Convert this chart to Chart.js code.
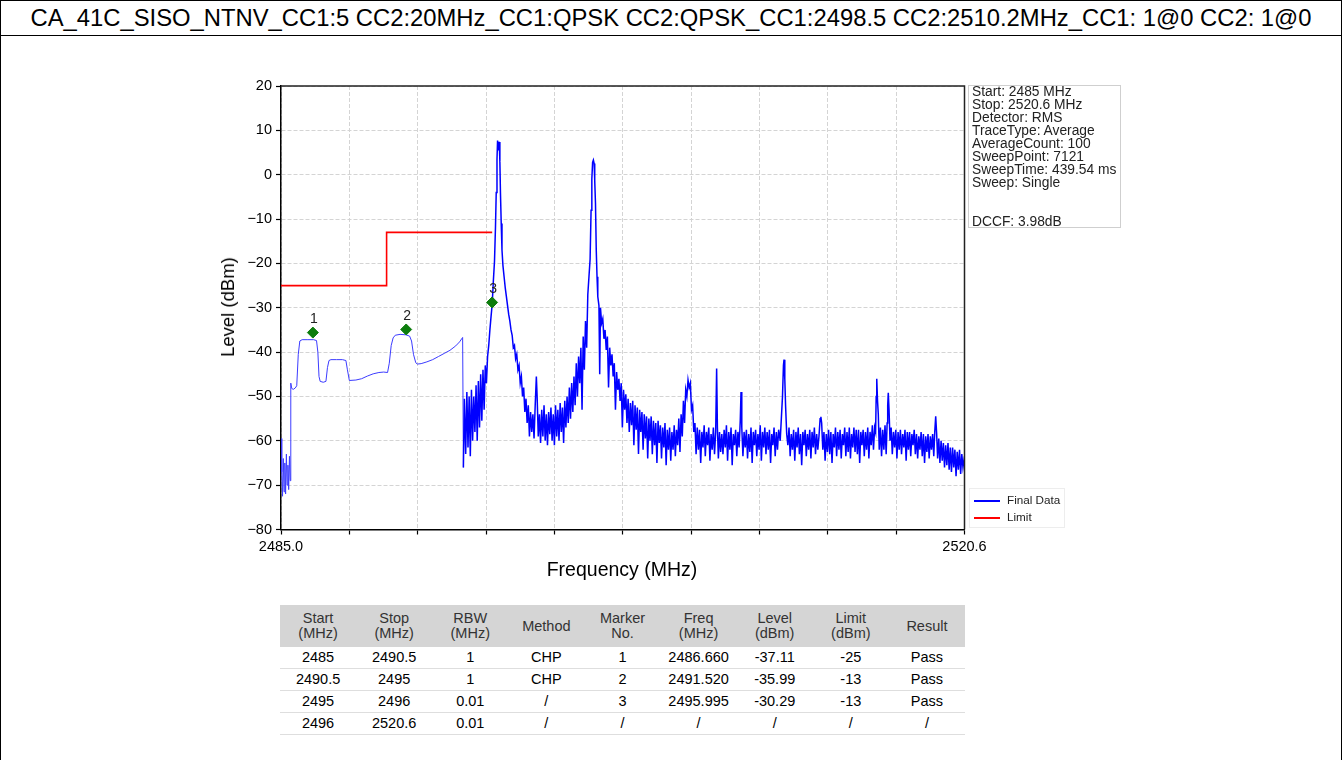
<!DOCTYPE html>
<html>
<head>
<meta charset="utf-8">
<script src="https://cdn.jsdelivr.net/npm/chart.js@4.4.0/dist/chart.umd.min.js"></script>
<style>
html,body{margin:0;padding:0;background:#fff;}
body{width:1342px;height:760px;position:relative;overflow:hidden;font-family:"Liberation Sans",Arial,Helvetica,sans-serif;color:#000;}
#frame{position:absolute;left:0;top:0;width:1340px;height:800px;border:1px solid #000;}
#title{position:absolute;left:0;top:0;width:1342px;height:35px;border-bottom:1.5px solid #000;text-align:center;font-size:23.8px;line-height:36px;white-space:nowrap;}
#chartBox{position:absolute;left:0;top:0;width:1342px;height:600px;}
#info{position:absolute;left:968px;top:85px;width:153px;height:143px;border:1px solid #cfcfcf;box-sizing:border-box;padding:0 0 0 3px;font-size:13.8px;line-height:12.95px;color:#222;white-space:pre;}
#legend{position:absolute;left:969px;top:488px;width:96px;height:40px;border:1px solid #ededed;box-sizing:border-box;font-size:11.7px;color:#222;}
.lg{position:absolute;left:4px;width:26px;height:1.5px;}
.lt{position:absolute;left:37px;line-height:14px;}
.axt{position:absolute;font-size:19.5px;color:#000;white-space:nowrap;}
#ytitle{left:228px;top:307px;transform:translate(-50%,-50%) rotate(-90deg);font-size:18.5px;}
#xtitle{left:622px;top:569px;transform:translate(-50%,-50%);}
#tbl{position:absolute;left:280px;top:605px;border-collapse:collapse;font-size:14.5px;table-layout:fixed;width:685px;}
#tbl th{background:#d5d5d5;font-weight:normal;color:#333;height:42px;padding:0;line-height:15px;text-align:center;}
#tbl td{height:21px;padding:0;text-align:center;border-bottom:1px solid #dedede;line-height:21px;}
</style>
</head>
<body>
<div id="frame"></div>
<div id="title"></div>
<div id="chartBox"><canvas id="c" width="1342" height="600"></canvas></div>
<div id="info"></div>
<div id="legend"></div>
<div id="ytitle" class="axt"></div>
<div id="xtitle" class="axt"></div>
<table id="tbl"><thead><tr id="thead"></tr></thead><tbody id="tbody"></tbody></table>
<script>
// ---------------- data ----------------
const pageTitle = 'CA_41C_SISO_NTNV_CC1:5 CC2:20MHz_CC1:QPSK CC2:QPSK_CC1:2498.5 CC2:2510.2MHz_CC1: 1@0 CC2: 1@0';
const xAxisTitle = 'Frequency (MHz)';
const yAxisTitle = 'Level (dBm)';
const xMin = 2485.0, xMax = 2520.6;
const yMin = -80, yMax = 20;
const xTickValues = [2485.0, 2488.56, 2492.12, 2495.68, 2499.24, 2502.80, 2506.36, 2509.92, 2513.48, 2517.04, 2520.6];
const xTickLabels = ['2485.0', '', '', '', '', '', '', '', '', '', '2520.6'];
const yTickValues = [-80, -70, -60, -50, -40, -30, -20, -10, 0, 10, 20];

const seriesNames = ['Final Data', 'Limit'];

// Limit line (MHz, dBm)
const limitFreq = [2485.0, 2490.5, 2490.5, 2496.0];
const limitLevel = [-25, -25, -13, -13];

// Markers
const markerNo = ['1', '2', '3'];
const markerFreq = [2486.660, 2491.520, 2495.995];
const markerLevel = [-35.6, -34.9, -28.8];

// Final Data trace: [frequency MHz, level dBm]
const finalDataTrace = [
[2485.00,-59.5],[2485.04,-67],[2485.08,-72.5],[2485.12,-64],[2485.16,-71.5],[2485.20,-65],[2485.24,-72],[2485.28,-63],
[2485.32,-70],[2485.36,-65.5],[2485.40,-71],[2485.44,-63.5],[2485.48,-69],[2485.51,-47],[2485.56,-48.2],[2485.64,-48.4],
[2485.74,-48.1],[2485.82,-47.6],[2485.90,-40.5],[2485.98,-37.5],[2486.10,-37.2],[2486.40,-37.2],[2486.70,-37.2],[2486.85,-37.4],
[2486.92,-40],[2486.98,-45.5],[2487.04,-46.6],[2487.20,-46.8],[2487.34,-46.6],[2487.42,-43.5],[2487.50,-41.9],[2487.60,-41.7],
[2487.90,-41.7],[2488.20,-41.7],[2488.38,-41.9],[2488.46,-44],[2488.56,-46.4],[2488.90,-46.3],[2489.20,-46.0],[2489.50,-45.4],
[2489.80,-44.9],[2490.10,-44.6],[2490.35,-44.5],[2490.55,-44.6],[2490.64,-42.5],[2490.74,-38.5],[2490.84,-36.8],[2490.95,-36.2],
[2491.20,-36.0],[2491.50,-36.1],[2491.70,-36.4],[2491.80,-37.5],[2491.90,-40.5],[2492.02,-42.4],[2492.10,-42.7],[2492.30,-42.6],
[2492.60,-42.2],[2492.90,-41.7],[2493.20,-41.0],[2493.50,-40.3],[2493.80,-39.6],[2494.10,-38.6],[2494.30,-37.7],[2494.46,-36.7],
[2494.50,-66],[2494.55,-50.5],[2494.62,-63],[2494.68,-49],[2494.74,-61.5],[2494.80,-50],[2494.86,-63.5],[2494.92,-48.5],
[2494.98,-60],[2495.04,-50],[2495.10,-58],[2495.16,-47.5],[2495.22,-60],[2495.28,-46.5],[2495.34,-57],[2495.40,-45],
[2495.46,-55.5],[2495.52,-44],[2495.58,-53],[2495.64,-43],[2495.70,-47],[2495.76,-41],[2495.82,-38.5],[2495.88,-35],
[2495.94,-32],[2496.00,-29.2],[2496.06,-24],[2496.12,-19.5],[2496.17,-12],[2496.21,-4],[2496.25,3.5],[2496.28,7.7],
[2496.31,6.5],[2496.34,5.5],[2496.37,7.4],[2496.40,3],[2496.43,-4],[2496.47,-11],[2496.51,-17],[2496.56,-20.5],
[2496.62,-23],[2496.68,-25.5],[2496.74,-27.5],[2496.80,-29.5],[2496.86,-31.5],[2496.92,-33],[2496.98,-35],[2497.04,-36.2],
[2497.10,-39],[2497.16,-38.5],[2497.22,-41.5],[2497.28,-40.5],[2497.34,-44],[2497.40,-43],[2497.46,-47],[2497.52,-45.5],
[2497.58,-50],[2497.64,-48],[2497.70,-53.5],[2497.76,-50.5],[2497.82,-56],[2497.88,-52],[2497.94,-59],[2498.00,-53.5],
[2498.06,-58],[2498.12,-54],[2498.18,-59.5],[2498.24,-52],[2498.30,-45.5],[2498.34,-50],[2498.40,-59],[2498.46,-54],
[2498.52,-60.5],[2498.58,-53],[2498.64,-59],[2498.70,-52],[2498.76,-60],[2498.82,-54],[2498.88,-61],[2498.94,-53.5],
[2499.00,-58.5],[2499.06,-52.5],[2499.12,-60],[2499.18,-54],[2499.24,-61],[2499.30,-52],[2499.36,-59],[2499.42,-53],
[2499.48,-60],[2499.54,-51.5],[2499.60,-58],[2499.66,-52.5],[2499.72,-60.5],[2499.78,-51],[2499.84,-57],[2499.90,-50],
[2499.96,-56],[2500.02,-48],[2500.08,-55],[2500.14,-47],[2500.20,-53.5],[2500.26,-45.5],[2500.32,-52],[2500.38,-42.5],
[2500.44,-50],[2500.50,-41],[2500.56,-47],[2500.62,-39],[2500.68,-53],[2500.74,-36.5],[2500.80,-44],[2500.86,-33],
[2500.92,-39],[2500.98,-27],[2501.04,-23],[2501.10,-19],[2501.15,-8],[2501.19,-1],[2501.23,2.8],[2501.27,3.3],
[2501.31,2.5],[2501.34,-1.3],[2501.38,-6.5],[2501.42,-17],[2501.46,-23],[2501.50,-27.5],[2501.56,-29.5],[2501.60,-45],
[2501.64,-30],[2501.70,-33.5],[2501.76,-32.5],[2501.82,-37],[2501.88,-35],[2501.94,-39.5],[2502.00,-36.5],[2502.06,-48],
[2502.12,-39],[2502.18,-43],[2502.24,-40.5],[2502.30,-45.5],[2502.36,-42.5],[2502.42,-53],[2502.48,-44.5],[2502.54,-48.5],
[2502.60,-46],[2502.66,-51],[2502.72,-47],[2502.78,-57],[2502.84,-48.5],[2502.90,-53],[2502.96,-49.5],[2503.02,-56],
[2503.08,-50.5],[2503.14,-58],[2503.20,-51.5],[2503.26,-56.5],[2503.32,-51],[2503.38,-61],[2503.44,-52],[2503.50,-57.5],
[2503.56,-52.5],[2503.62,-63],[2503.68,-53],[2503.74,-58],[2503.80,-53.5],[2503.86,-62],[2503.92,-54],[2503.98,-59.5],
[2504.04,-54.5],[2504.10,-64],[2504.16,-55],[2504.22,-60],[2504.28,-54.5],[2504.34,-63],[2504.40,-55.5],[2504.46,-61],
[2504.52,-56],[2504.58,-65],[2504.64,-55.5],[2504.70,-60.5],[2504.76,-56.5],[2504.82,-64],[2504.88,-57],[2504.94,-61.5],
[2505.00,-56],[2505.06,-65.5],[2505.12,-57.5],[2505.18,-62],[2505.24,-57],[2505.30,-64.5],[2505.36,-58],[2505.42,-62],
[2505.48,-56.5],[2505.54,-63.5],[2505.60,-57.5],[2505.66,-61],[2505.72,-55],[2505.78,-62.5],[2505.84,-54],[2505.90,-59],
[2505.96,-51],[2506.02,-56],[2506.08,-48.5],[2506.14,-50],[2506.20,-46.3],[2506.26,-48],[2506.32,-47],[2506.38,-53],
[2506.44,-52],[2506.50,-58],[2506.56,-56],[2506.62,-63],[2506.68,-57],[2506.74,-62],[2506.80,-57.5],[2506.86,-65],
[2506.92,-58],[2506.98,-61.5],[2507.04,-56.5],[2507.10,-63.5],[2507.16,-58],[2507.22,-61],[2507.28,-57],[2507.34,-64.5],
[2507.40,-58.5],[2507.46,-62],[2507.52,-57],[2507.58,-63],[2507.64,-58],[2507.69,-43.7],[2507.73,-57],[2507.78,-64],
[2507.84,-58],[2507.90,-62.5],[2507.96,-58.5],[2508.02,-63],[2508.08,-57.5],[2508.14,-61.5],[2508.20,-56.5],[2508.26,-64.5],
[2508.32,-58],[2508.38,-62],[2508.44,-57],[2508.50,-65.5],[2508.56,-58.5],[2508.62,-61],[2508.68,-57.5],[2508.74,-63.5],
[2508.80,-58],[2508.86,-61.5],[2508.92,-55.5],[2508.96,-49.0],[2509.00,-57],[2509.06,-63.5],[2509.12,-58],[2509.18,-61.5],
[2509.24,-57.5],[2509.30,-64],[2509.36,-58.5],[2509.42,-62.5],[2509.48,-57],[2509.54,-65],[2509.60,-58],[2509.66,-61],
[2509.72,-57.5],[2509.78,-63.5],[2509.84,-58.5],[2509.90,-62],[2509.96,-56.5],[2510.02,-64.5],[2510.08,-58],[2510.14,-61.5],
[2510.20,-57],[2510.26,-63],[2510.32,-58],[2510.38,-62],[2510.44,-57.5],[2510.50,-65],[2510.56,-58.5],[2510.62,-61],
[2510.68,-57],[2510.74,-63.5],[2510.80,-58],[2510.86,-62],[2510.92,-57.5],[2511.00,-60],[2511.06,-55],[2511.12,-50],
[2511.17,-43],[2511.20,-41.7],[2511.24,-46],[2511.28,-52],[2511.34,-58.5],[2511.40,-61],[2511.46,-57],[2511.52,-63.5],
[2511.58,-58.5],[2511.64,-62],[2511.70,-57.5],[2511.76,-64.5],[2511.82,-58],[2511.88,-61.5],[2511.94,-57],[2512.00,-63],
[2512.06,-58.5],[2512.12,-65.5],[2512.18,-58],[2512.24,-61],[2512.30,-57.5],[2512.36,-63.5],[2512.42,-58.5],[2512.48,-62],
[2512.54,-57.5],[2512.60,-64],[2512.66,-58],[2512.72,-61.5],[2512.78,-57],[2512.84,-63],[2512.90,-58.5],[2512.96,-62],
[2513.02,-59],[2513.08,-55],[2513.12,-54.6],[2513.16,-56],[2513.22,-62],[2513.28,-58],[2513.34,-64.5],[2513.40,-58.5],
[2513.46,-62.5],[2513.52,-57.5],[2513.58,-63],[2513.64,-58],[2513.70,-65],[2513.76,-58.5],[2513.82,-61.5],[2513.88,-57],
[2513.94,-63.5],[2514.00,-58],[2514.06,-62],[2514.12,-57.5],[2514.18,-64],[2514.24,-58.5],[2514.30,-61],[2514.36,-57],
[2514.42,-63.5],[2514.48,-58],[2514.54,-62.5],[2514.60,-57],[2514.66,-64],[2514.72,-58.5],[2514.78,-61.5],[2514.84,-57],
[2514.90,-62.5],[2514.96,-57.5],[2515.02,-63],[2515.08,-57.5],[2515.14,-65],[2515.20,-58],[2515.26,-61],[2515.32,-57.5],
[2515.38,-63.5],[2515.44,-58],[2515.50,-62],[2515.56,-57],[2515.62,-64],[2515.68,-58],[2515.74,-61],[2515.80,-56.5],
[2515.86,-62],[2515.92,-57],[2515.97,-58],[2516.00,-50],[2516.03,-46.0],[2516.07,-51],[2516.11,-54],[2516.16,-62],
[2516.22,-57],[2516.28,-63.5],[2516.34,-57.5],[2516.40,-62],[2516.46,-56.5],[2516.52,-63],[2516.57,-56],[2516.60,-52],
[2516.63,-49.2],[2516.67,-53],[2516.72,-60],[2516.78,-57],[2516.84,-63],[2516.90,-58],[2516.96,-61.5],[2517.02,-57.5],
[2517.08,-64],[2517.14,-58],[2517.20,-62],[2517.26,-57.5],[2517.32,-63],[2517.38,-58.5],[2517.44,-61.5],[2517.50,-57.5],
[2517.56,-64.5],[2517.62,-58],[2517.68,-62],[2517.74,-58],[2517.80,-63.5],[2517.86,-58.5],[2517.92,-61],[2517.98,-57.5],
[2518.04,-63],[2518.10,-58.5],[2518.16,-64],[2518.22,-59],[2518.28,-62],[2518.34,-58],[2518.40,-63.5],[2518.46,-58.5],
[2518.52,-65],[2518.58,-59],[2518.64,-62.5],[2518.70,-58.5],[2518.76,-64],[2518.82,-59],[2518.88,-62],[2518.94,-58.5],
[2519.00,-63.5],[2519.05,-58],[2519.10,-54.5],[2519.15,-58.5],[2519.20,-64],[2519.26,-59.5],[2519.32,-65],[2519.38,-60],
[2519.44,-64.5],[2519.50,-60.5],[2519.56,-66],[2519.62,-61],[2519.68,-65.5],[2519.74,-60.5],[2519.80,-66.5],[2519.86,-61.5],
[2519.92,-67],[2519.98,-61.5],[2520.04,-66],[2520.10,-62],[2520.16,-68],[2520.22,-62.5],[2520.28,-66.5],[2520.34,-62],
[2520.40,-67.5],[2520.46,-63],[2520.52,-66],[2520.60,-63.5]
];

// Info box
const infoLines = ['Start: 2485 MHz','Stop: 2520.6 MHz','Detector: RMS','TraceType: Average','AverageCount: 100','SweepPoint: 7121','SweepTime: 439.54 ms','Sweep: Single','','','DCCF: 3.98dB'];

// Result table
const tableHeaders = [['Start','(MHz)'],['Stop','(MHz)'],['RBW','(MHz)'],['Method',''],['Marker','No.'],['Freq','(MHz)'],['Level','(dBm)'],['Limit','(dBm)'],['Result','']];
const tableRows = [
  ['2485','2490.5','1','CHP','1','2486.660','-37.11','-25','Pass'],
  ['2490.5','2495','1','CHP','2','2491.520','-35.99','-13','Pass'],
  ['2495','2496','0.01','/','3','2495.995','-30.29','-13','Pass'],
  ['2496','2520.6','0.01','/','/','/','/','/','/']
];

// ---------------- page text ----------------
document.getElementById('title').textContent = pageTitle;
document.getElementById('xtitle').textContent = xAxisTitle;
document.getElementById('ytitle').textContent = yAxisTitle;
document.getElementById('info').textContent = infoLines.join('\n');

const seriesColors = ['#0000ff', '#ff0000'];
const lg = document.getElementById('legend');
seriesNames.forEach((n, i) => {
  const l = document.createElement('div'); l.className = 'lg';
  l.style.top = (11 + i * 17) + 'px'; l.style.background = seriesColors[i];
  const t = document.createElement('div'); t.className = 'lt';
  t.style.top = (4 + i * 17) + 'px'; t.textContent = n;
  lg.appendChild(l); lg.appendChild(t);
});

const thr = document.getElementById('thead');
tableHeaders.forEach(h => {
  const th = document.createElement('th');
  th.innerHTML = h[1] ? (h[0] + '<br>' + h[1]) : h[0];
  thr.appendChild(th);
});
const tb = document.getElementById('tbody');
tableRows.forEach(r => {
  const tr = document.createElement('tr');
  r.forEach(v => { const td = document.createElement('td'); td.textContent = v; tr.appendChild(td); });
  tb.appendChild(tr);
});

// ---------------- chart ----------------
const PLOT_LEFT = 281, PLOT_TOP = 86, PLOT_RIGHT = 964.5, PLOT_BOTTOM = 529.5, CANVAS_H = 600;
const NOISY_FROM_MHZ = 2494.47;

const framePlugin = {
  id: 'frame',
  afterDraw(chart) {
    const {ctx, chartArea: a} = chart;
    ctx.save();
    ctx.strokeStyle = '#222'; ctx.lineWidth = 1.5;
    ctx.beginPath();
    ctx.moveTo(a.left, a.top); ctx.lineTo(a.right, a.top); ctx.lineTo(a.right, a.bottom);
    ctx.stroke();
    ctx.restore();
  }
};
const markerLabelPlugin = {
  id: 'markerLabels',
  afterDatasetsDraw(chart) {
    const meta = chart.getDatasetMeta(2);
    const ctx = chart.ctx;
    ctx.save();
    ctx.fillStyle = '#222';
    ctx.font = '14px "Liberation Sans", Arial, sans-serif';
    ctx.textAlign = 'center'; ctx.textBaseline = 'middle';
    meta.data.forEach((pt, i) => ctx.fillText(markerNo[i], pt.x + 1, pt.y - 13.5));
    ctx.restore();
  }
};

const fmtMinus = v => (v < 0 ? '\u2212' + Math.abs(v) : String(v));

new Chart(document.getElementById('c'), {
  type: 'scatter',
  data: {
    datasets: [
      {
        label: seriesNames[0],
        data: finalDataTrace.map(p => ({x: p[0], y: p[1]})),
        showLine: true, borderColor: seriesColors[0], backgroundColor: seriesColors[0],
        borderWidth: 1, pointRadius: 0, tension: 0, order: 3,
        segment: {
          borderWidth: c => (c.p0.parsed.x >= NOISY_FROM_MHZ ? 1.5 : 1),
          borderColor: c => (c.p0.parsed.x >= NOISY_FROM_MHZ ? '#0000ff' : '#3c3cff')
        }
      },
      {
        label: seriesNames[1],
        data: limitFreq.map((f, i) => ({x: f, y: limitLevel[i]})),
        showLine: true, borderColor: seriesColors[1], backgroundColor: seriesColors[1],
        borderWidth: 1.6, pointRadius: 0, tension: 0, order: 2
      },
      {
        label: 'Markers',
        data: markerFreq.map((f, i) => ({x: f, y: markerLevel[i]})),
        showLine: false, pointStyle: 'rectRot', pointRadius: 5.5,
        backgroundColor: '#0d7d0d', borderColor: '#0d7d0d', borderWidth: 1, order: 1
      }
    ]
  },
  options: {
    responsive: false, maintainAspectRatio: false, animation: false, devicePixelRatio: 1,
    layout: {padding: {left: 0, top: PLOT_TOP, right: 1342 - PLOT_RIGHT, bottom: 0}},
    plugins: {legend: {display: false}, tooltip: {enabled: false}, title: {display: false}},
    scales: {
      x: {
        type: 'linear', min: xMin, max: xMax,
        afterBuildTicks: s => { s.ticks = xTickValues.map(v => ({value: v})); },
        afterFit: s => { s.height = CANVAS_H - PLOT_BOTTOM; },
        ticks: {
          autoSkip: false, maxRotation: 0, padding: 4,
          color: '#000', font: {family: '"Liberation Sans", Arial, sans-serif', size: 14.5},
          callback: (v, i) => xTickLabels[i]
        },
        grid: {color: '#d4d4d4', lineWidth: 1, tickColor: '#000', tickLength: 5, tickWidth: 1.2},
        border: {display: true, color: '#000', width: 1.5, dash: [4, 2]}
      },
      y: {
        type: 'linear', min: yMin, max: yMax,
        afterBuildTicks: s => { s.ticks = yTickValues.map(v => ({value: v})); },
        afterFit: s => { s.width = PLOT_LEFT; },
        ticks: {
          padding: 4, color: '#000', font: {family: '"Liberation Sans", Arial, sans-serif', size: 14.5},
          callback: v => fmtMinus(v)
        },
        grid: {color: '#d4d4d4', lineWidth: 1, tickColor: '#000', tickLength: 5, tickWidth: 1.2},
        border: {display: true, color: '#000', width: 1.5, dash: [4, 2]}
      }
    }
  },
  plugins: [framePlugin, markerLabelPlugin]
});
</script>
</body>
</html>
